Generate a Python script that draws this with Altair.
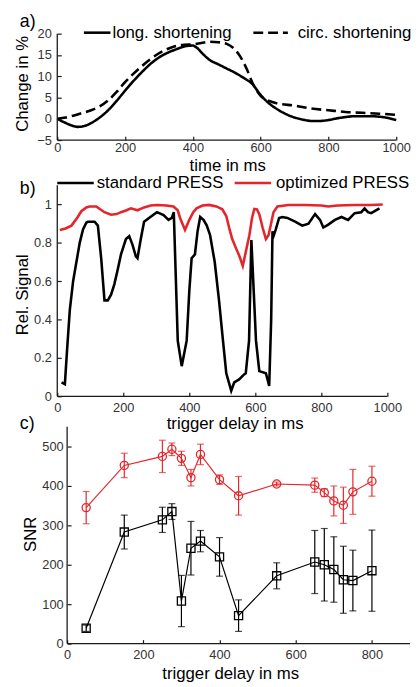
import altair as alt
import pandas as pd

FONT = "Liberation Sans"
RED = "#e3262b"
INK = "#1a1a1a"
LBL = "#333333"

# ---------------- panel a: shortening ----------------
time_long = [0, 20, 40, 60, 80, 100, 125, 150, 175, 200, 225, 250, 275, 300, 325, 350, 375, 400,
             410, 430, 450, 475, 500, 525, 550, 575, 600, 625, 650, 675, 700, 725, 750, 775,
             800, 825, 850, 875, 900, 925, 950, 975, 1000]
long_short = [0.0, -0.8, -1.5, -1.9, -1.7, -1.0, 0.3, 2.0, 4.2, 6.6, 8.9, 11.0, 12.9, 14.4, 15.5,
              16.3, 17.0, 17.2, 16.8, 15.2, 13.8, 12.8, 11.8, 10.8, 9.6, 8.2, 5.6, 3.6, 2.2, 1.1,
              0.3, -0.2, -0.5, -0.5, -0.3, 0.1, 0.4, 0.6, 0.6, 0.6, 0.5, 0.2, -0.3]
time_circ = [0, 25, 50, 75, 100, 125, 150, 175, 200, 225, 250, 275, 300, 325, 350, 375, 400, 425,
             450, 475, 500, 520, 540, 560, 575, 600, 625, 650, 700, 750, 800, 850, 900, 950, 1000]
circ_short = [0.0, 0.3, 0.8, 1.4, 2.0, 2.9, 4.3, 6.3, 8.6, 10.6, 12.4, 14.0, 15.4, 16.4, 17.1,
              17.4, 17.5, 17.8, 18.1, 18.0, 17.6, 16.6, 14.6, 11.5, 8.6, 5.4, 4.2, 3.6, 3.1, 2.4,
              2.0, 1.6, 1.4, 1.2, 0.9]

# ---------------- panel b: relative signal ----------------
delay_std = [13, 23, 30, 38, 48, 58, 68, 78, 88, 93, 113, 123, 133, 143, 153, 163, 173, 183, 193,
             208, 218, 228, 238, 243, 253, 263, 282, 302, 322, 337, 347, 353, 365, 377, 392, 400,
             407, 417, 425, 433, 443, 453, 463, 477, 490, 502, 512, 527, 536, 551, 566, 571, 581,
             588, 602, 612, 632, 642, 648, 652, 656, 662, 672, 682, 697, 722, 742, 761, 781, 796,
             806, 821, 841, 861, 881, 901, 921, 931, 941, 951, 976]
signal_std = [0.072, 0.063, 0.25, 0.45, 0.60, 0.70, 0.80, 0.87, 0.905, 0.91, 0.91, 0.89, 0.72,
              0.50, 0.50, 0.53, 0.585, 0.66, 0.74, 0.82, 0.835, 0.79, 0.73, 0.72, 0.82, 0.91,
              0.935, 0.96, 0.945, 0.92, 0.93, 0.96, 0.29, 0.157, 0.29, 0.55, 0.72, 0.74, 0.86,
              0.935, 0.92, 0.89, 0.84, 0.70, 0.50, 0.29, 0.12, 0.029, 0.072, 0.088, 0.114, 0.12,
              0.29, 0.815, 0.29, 0.131, 0.12, 0.054, 0.40, 0.86, 0.84, 0.87, 0.93, 0.935, 0.93,
              0.91, 0.89, 0.90, 0.95, 0.92, 0.88, 0.895, 0.92, 0.935, 0.92, 0.955, 0.96, 0.98,
              0.96, 0.955, 0.98]
delay_opt = [8, 25, 43, 60, 73, 88, 98, 118, 130, 143, 163, 180, 193, 210, 223, 243, 263, 283,
             302, 330, 352, 365, 372, 387, 400, 412, 422, 440, 460, 482, 500, 512, 522, 530, 542,
             552, 562, 572, 582, 590, 597, 605, 612, 622, 632, 640, 647, 655, 667, 700, 750, 800,
             821, 850, 900, 950, 986]
signal_opt = [0.867, 0.875, 0.89, 0.93, 0.965, 0.985, 0.99, 0.99, 0.975, 0.96, 0.947, 0.95, 0.96,
              0.97, 0.98, 0.97, 0.985, 0.995, 0.998, 0.995, 0.99, 0.97, 0.93, 0.867, 0.92, 0.96,
              0.98, 0.995, 0.998, 0.99, 0.975, 0.94, 0.87, 0.82, 0.77, 0.73, 0.68, 0.76, 0.84,
              0.93, 0.977, 0.975, 0.95, 0.88, 0.82, 0.84, 0.895, 0.96, 0.99, 0.998, 0.998, 0.995,
              0.99, 0.995, 0.998, 0.998, 1.0]

# ---------------- panel c: SNR ----------------
snr_delay = [50, 150, 250, 275, 300, 325, 350, 400, 450, 550, 650, 675, 700, 725, 750, 800]
snr_opt = [345, 452, 475, 493, 470, 421, 480, 416, 375, 405, 402, 383, 362, 351, 385, 412]
snr_opt_err = [41, 31, 41, 16, 18, 21, 26, 12, 49, 5, 18, 10, 38, 46, 57, 38]
snr_std = [39, 283, 314, 335, 108, 242, 260, 220, 71, 172, 207, 200, 188, 162, 160, 185]
snr_std_err = [8, 43, 32, 20, 65, 68, 27, 49, 40, 33, 80, 92, 83, 85, 77, 103]


def mk_axis(values, pad, offset=-4, fmt="d"):
    return alt.Axis(values=values, format=fmt, domain=False, grid=False, ticks=True, tickSize=4,
                    tickColor=INK, tickWidth=1.2, offset=offset, labelFont=FONT,
                    labelFontSize=13, labelColor=LBL, labelPadding=pad, labelFlush=False,
                    labelOverlap=False, title="")


def label(txt, x, y, size=17, angle=0, align="left", color="black"):
    return alt.Chart(pd.DataFrame({"txt": [txt]})).mark_text(
        font=FONT, fontSize=size, angle=angle, align=align, baseline="middle", color=color
    ).encode(x=alt.value(x), y=alt.value(y), text="txt:N")


def sample(x1, x2, y, color, dash=None):
    kw = dict(color=color, strokeWidth=2.6)
    if dash:
        kw["strokeDash"] = dash
    return alt.Chart(pd.DataFrame({"k": [0]})).mark_rule(**kw).encode(
        x=alt.value(x1), x2=alt.value(x2), y=alt.value(y))


def axis_rules(x0, x1, y0, y1, X, Y):
    df = pd.DataFrame({"t": [x0, x0], "v": [y0, y0], "t2": [x0, x1], "v2": [y1, y0]})
    return alt.Chart(df).mark_rule(color=INK, strokeWidth=1.3).encode(
        x=X, y=Y, x2="t2:Q", y2="v2:Q")


# ----- panel a -----
df_a = pd.concat([
    pd.DataFrame({"t": time_long, "v": long_short, "s": "long"}),
    pd.DataFrame({"t": time_circ, "v": circ_short, "s": "circ"}),
])
xa = alt.X("t:Q", scale=alt.Scale(domain=[0, 1000], nice=False, zero=False),
           axis=mk_axis([0, 200, 400, 600, 800, 1000], 2))
ya = alt.Y("v:Q", scale=alt.Scale(domain=[-5, 20], nice=False, zero=False),
           axis=mk_axis([-5, 0, 5, 10, 15, 20], 6))
lines_a = alt.Chart(df_a).mark_line(color="black", strokeWidth=2.6, interpolate="monotone").encode(
    x=xa, y=ya,
    strokeDash=alt.StrokeDash("s:N", scale=alt.Scale(domain=["long", "circ"], range=[[1, 0], [10, 5]]),
                              legend=None),
    detail="s:N")
panel_a = alt.layer(
    lines_a, axis_rules(0, 1000, -5, 20, xa, ya),
    sample(27, 54, -1, "black"), label("long. shortening", 56, -1),
    sample(199, 234, -1, "black", [10, 5]), label("circ. shortening", 244, -1),
    label("a)", -38, -12, size=18),
    label("time in ms", 173, 134, align="center"),
    label("Change in %", -34.5, 51, angle=270, align="center"),
).properties(width=344, height=108)

# ----- panel b -----
df_b = pd.concat([
    pd.DataFrame({"t": delay_std, "v": signal_std, "s": "standard"}),
    pd.DataFrame({"t": delay_opt, "v": signal_opt, "s": "optimized"}),
])
xb = alt.X("t:Q", scale=alt.Scale(domain=[0, 1000], nice=False, zero=False),
           axis=mk_axis([0, 200, 400, 600, 800, 1000], 5))
yb = alt.Y("v:Q", scale=alt.Scale(domain=[0, 1.1768], nice=False, zero=False),
           axis=mk_axis([0, 0.2, 0.4, 0.6, 0.8, 1], 6, fmt=".1~f"))
lines_b = alt.Chart(df_b).mark_line(strokeWidth=2.6).encode(
    x=xb, y=yb,
    color=alt.Color("s:N", scale=alt.Scale(domain=["standard", "optimized"], range=["black", RED]),
                    legend=None))
panel_b = alt.layer(
    lines_b, axis_rules(0, 1000, 0, 1.1, xb, yb),
    sample(0, 37, 12.5, "black"), label("standard PRESS", 40, 12.5),
    sample(180, 217, 12.5, RED), label("optimized PRESS", 222, 12.5),
    label("b)", -38, 19, size=18),
    label("trigger delay in ms", 180.5, 257, align="center"),
    label("Rel. Signal", -34.5, 126, angle=270, align="center"),
).properties(width=335, height=229)

# ----- panel c -----
df_c = pd.concat([
    pd.DataFrame({"t": snr_delay, "v": snr_opt, "e": snr_opt_err, "s": "optimized"}),
    pd.DataFrame({"t": snr_delay, "v": snr_std, "e": snr_std_err, "s": "standard"}),
])
df_c["lo"] = df_c["v"] - df_c["e"]
df_c["hi"] = df_c["v"] + df_c["e"]
caps = pd.concat([
    df_c[["t", "s"]].assign(v=df_c["lo"]),
    df_c[["t", "s"]].assign(v=df_c["hi"]),
])
err_df = df_c[["t", "s", "lo", "hi"]].rename(columns={"lo": "v", "hi": "v2"})
xc = alt.X("t:Q", scale=alt.Scale(domain=[-25.86, 900], nice=False, zero=False),
           axis=mk_axis([0, 200, 400, 600, 800], 5))
yc = alt.Y("v:Q", scale=alt.Scale(domain=[0, 550], nice=False, zero=False),
           axis=mk_axis([0, 100, 200, 300, 400, 500], 4, offset=-14))
col_c = alt.Color("s:N", scale=alt.Scale(domain=["standard", "optimized"], range=["black", RED]),
                  legend=None)
lines_c = alt.Chart(df_c).mark_line(strokeWidth=1.2).encode(x=xc, y=yc, color=col_c)
err_c = alt.Chart(err_df).mark_rule(strokeWidth=1.2).encode(x=xc, y=yc, y2="v2:Q", color=col_c)
cap_c = alt.Chart(caps).mark_tick(orient="horizontal", size=7, thickness=1.2).encode(
    x=xc, y=yc, color=col_c)
pts_c = alt.Chart(df_c).mark_point(filled=False, size=68, strokeWidth=1.3, opacity=1).encode(
    x=xc, y=yc, color=col_c,
    shape=alt.Shape("s:N", scale=alt.Scale(domain=["standard", "optimized"], range=["square", "circle"]),
                    legend=None))
panel_c = alt.layer(
    lines_c, err_c, cap_c, pts_c, axis_rules(0, 900, 0, 550, xc, yc),
    label("c)", -38, -3, size=18),
    label("trigger delay in ms", 176, 251, align="center"),
    label("SNR", -27, 109, angle=270, align="center"),
).properties(width=358, height=220)

chart = alt.vconcat(panel_a, panel_b, panel_c, spacing=31, bounds="flush").properties(
    padding={"left": 6, "top": 0, "right": 0, "bottom": 0}
).configure_view(strokeWidth=0)

chart.save("out.html", embed_options={"renderer": "svg", "actions": False})
